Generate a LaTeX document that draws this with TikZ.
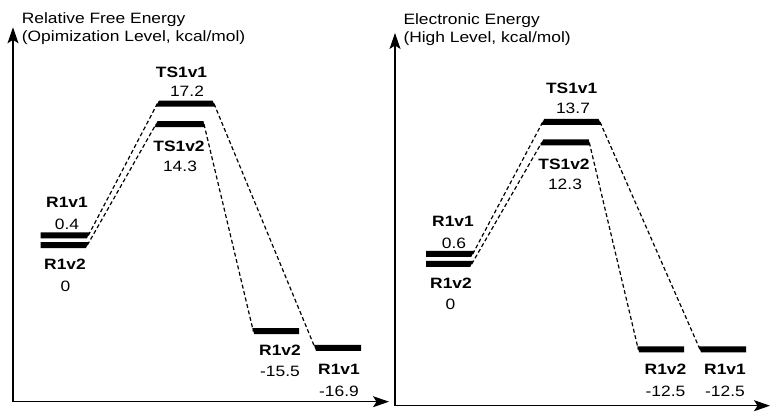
\documentclass[tikz,border=0pt]{standalone}
\usepackage{fontspec}
\setmainfont{Liberation Sans}
\usetikzlibrary{arrows.meta}
\newcommand{\wtxt}[1]{\scalebox{1.16}[1]{#1}}
% name, x1, x2, y, left slant, right slant (top offset relative to bottom)
\newcommand{\mylvl}[6]{%
  \coordinate (#1-l) at (#2,#4);
  \coordinate (#1-r) at (#3,#4);
  \fill ([shift={({0.5*(#5)},-3)}]#1-l) -- ([shift={({0.5*(#6)},-3)}]#1-r)
        -- ([shift={({-0.5*(#6)},3)}]#1-r) -- ([shift={({-0.5*(#5)},3)}]#1-l) -- cycle;}
\begin{document}
\begin{tikzpicture}[x=1pt,y=-1pt,
  conn/.style={line width=1.2pt, dash pattern=on 4pt off 2.6pt},
  axis/.style={line width=1.2pt,-{Stealth[length=16pt,width=11pt,inset=3.5pt]}},
  lbl/.style={font=\fontsize{15}{18}\selectfont\bfseries, inner sep=0pt, anchor=base},
  val/.style={font=\fontsize{15}{18}\selectfont, inner sep=0pt, anchor=base},
  ttl/.style={font=\fontsize{15}{18}\selectfont, inner sep=0pt, anchor=base west}]
\useasboundingbox (0,0) rectangle (779,419);

% ---------- left panel ----------
\coordinate (LO) at (13,401.7);
\coordinate (LY) at (13,27.3);
\coordinate (LX) at (389,401.7);
\draw[axis] (LO) -- (LY);
\draw[axis] (LO) -- (LX);
\node[ttl] (lt1) at (21.7,23.3) {\wtxt{Relative Free Energy}};
\node[ttl] (lt2) at (21.7,41.8) {\wtxt{(Opimization Level, kcal/mol)}};

\mylvl{LTS1}{157.3}{214}{103.7}{3}{-3}
\mylvl{LTS2}{156}{204}{124.2}{3}{-1}
\mylvl{LR1}{40.7}{88.3}{235.5}{0}{3}
\mylvl{LR2}{40.7}{87.3}{245.2}{0}{3}
\mylvl{LP2}{253.3}{299}{331.2}{-2}{0}
\mylvl{LP1}{315}{361}{347.8}{-2}{0}

\draw[conn] (LR1-r) -- (LTS1-l);
\draw[conn] (LR2-r) -- (LTS2-l);
\draw[conn] (LTS1-r) -- (LP1-l);
\draw[conn] (LTS2-r) -- (LP2-l);

\node[lbl] (a1) at (181.5,77.3) {\wtxt{TS1v1}};
\node[val] (a2) at (187,96.7) {\wtxt{17.2}};
\node[lbl] (a3) at (179,151.7) {\wtxt{TS1v2}};
\node[val] (a4) at (180,171.7) {\wtxt{14.3}};
\node[lbl] (a5) at (67,208) {\wtxt{R1v1}};
\node[val] (a6) at (67,230) {\wtxt{0.4}};
\node[lbl] (a7) at (65,269.3) {\wtxt{R1v2}};
\node[val] (a8) at (65.5,291.7) {\wtxt{0}};
\node[lbl] (a9) at (280,356) {\wtxt{R1v2}};
\node[val] (a10) at (280,376.7) {\wtxt{-15.5}};
\node[lbl] (a11) at (339,375) {\wtxt{R1v1}};
\node[val] (a12) at (339,396.7) {\wtxt{-16.9}};

% ---------- right panel ----------
\coordinate (RO) at (395,405.7);
\coordinate (RY) at (395,33);
\coordinate (RX) at (770,405.7);
\draw[axis] (RO) -- (RY);
\draw[axis] (RO) -- (RX);
\node[ttl] (rt1) at (403.3,25) {\wtxt{Electronic Energy}};
\node[ttl] (rt2) at (403.3,42.2) {\wtxt{(High Level, kcal/mol)}};

\mylvl{RTS1}{542.7}{600}{122}{3}{-3}
\mylvl{RTS2}{541.7}{589.3}{142.5}{3}{-1}
\mylvl{RR1}{426}{472.7}{254}{0}{3}
\mylvl{RR2}{426}{471.7}{264}{0}{3}
\mylvl{RP2}{638.3}{684}{349.5}{-2}{0}
\mylvl{RP1}{700}{746}{349.5}{-2}{0}

\draw[conn] (RR1-r) -- (RTS1-l);
\draw[conn] (RR2-r) -- (RTS2-l);
\draw[conn] (RTS1-r) -- (RP1-l);
\draw[conn] (RTS2-r) -- (RP2-l);

\node[lbl] (b1) at (571.7,93.3) {\wtxt{TS1v1}};
\node[val] (b2) at (573,113.3) {\wtxt{13.7}};
\node[lbl] (b3) at (564,170) {\wtxt{TS1v2}};
\node[val] (b4) at (565,190) {\wtxt{12.3}};
\node[lbl] (b5) at (453,226.7) {\wtxt{R1v1}};
\node[val] (b6) at (454,248.3) {\wtxt{0.6}};
\node[lbl] (b7) at (451,288.3) {\wtxt{R1v2}};
\node[val] (b8) at (450.5,310) {\wtxt{0}};
\node[lbl] (b9) at (665.5,375) {\wtxt{R1v2}};
\node[val] (b10) at (665.5,396.7) {\wtxt{-12.5}};
\node[lbl] (b11) at (725,375) {\wtxt{R1v1}};
\node[val] (b12) at (725,396.7) {\wtxt{-12.5}};
\end{tikzpicture}
\end{document}
